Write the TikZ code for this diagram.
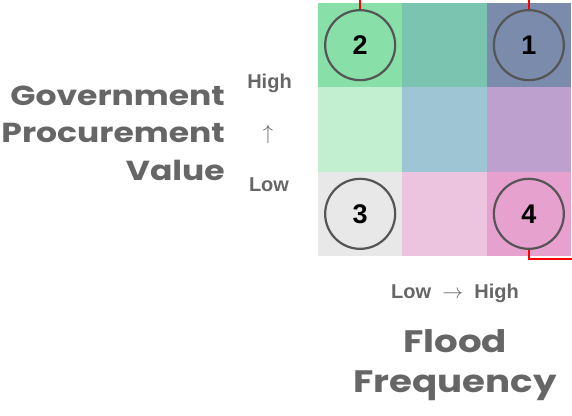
\documentclass[tikz,border=0pt]{standalone}
\usepackage{fontspec}
\setmainfont{Poppins}
\newfontfamily\titlefont{Poppins}[FakeStretch=1.2]
\newfontfamily\numfont{Liberation Sans}
\usepackage{tikz}
\usetikzlibrary{positioning}
\definecolor{bvA}{HTML}{88E0A8}
\definecolor{bvB}{HTML}{7BC4B0}
\definecolor{bvC}{HTML}{7A8BAB}
\definecolor{bvD}{HTML}{C2EFCF}
\definecolor{bvE}{HTML}{9DC5D4}
\definecolor{bvF}{HTML}{BEA0CE}
\definecolor{bvG}{HTML}{E8E8E8}
\definecolor{bvH}{HTML}{ECC4DF}
\definecolor{bvI}{HTML}{E6A1CF}
\definecolor{labelGray}{HTML}{666666}
\definecolor{markGray}{HTML}{555555}
\definecolor{linkRed}{HTML}{FF0000}
\tikzset{
    cell/.style={
        rectangle,
        inner sep=0pt,
        minimum size=84.33pt
    },
    marker/.style={
        circle,
        draw=markGray,
        line width=2.2pt,
        minimum size=70pt,
        inner sep=0pt,
        font=\numfont\bfseries\fontsize{27}{27}\selectfont
    },
    title/.style={
        text=labelGray,
        inner sep=0pt
    },
    tick/.style={
        font=\numfont\bfseries\fontsize{20}{20}\selectfont,
        text=labelGray,
        inner sep=0pt
    },
    link/.style={
        draw=linkRed,
        line width=2.5pt
    }
}
\begin{document}
\begin{tikzpicture}[x=1pt, y=-1pt]
  \useasboundingbox (0,0) rectangle (572,415);

  % Bivariate grid
  \foreach \r/\c/\clr in {1/1/bvA, 1/2/bvB, 1/3/bvC, 2/1/bvD, 2/2/bvE, 2/3/bvF, 3/1/bvG, 3/2/bvH, 3/3/bvI}
    \node[cell, fill=\clr] (c\r\c) at ({318+84.33*(\c-0.5)}, {3+84.33*(\r-0.5)}) {};

  % Markers
  \node[marker] (m2) at (c11) {2};
  \node[marker] (m1) at (c13) {1};
  \node[marker] (m3) at (c31) {3};
  \node[marker] (m4) at (c33) {4};

  % Leader lines
  \coordinate (edge) at (0,0);
  \coordinate (exit4) at (572,259);
  \draw[link] (m2.north) -- (m2.north |- edge);
  \draw[link] (m1.north) -- (m1.north |- edge);
  \draw[link] (m4.south) |- (exit4);

  % Axis labels
  \node[title, font=\titlefont\bfseries\fontsize{27.5}{37.5}\selectfont, align=right, anchor=east] (gpv) at (225,133) {Government\\Procurement\\Value};
  \node[tick, anchor=base] (yhigh) at (269.5,88) {High};
  \node[tick] (yarrow) at (268,134) {$\uparrow$};
  \node[tick, anchor=base] (ylow) at (269,191) {Low};
  \node[tick, anchor=base] (xaxis) at (455,298) {Low ${}\rightarrow{}$ High};
  \node[title, font=\titlefont\bfseries\fontsize{31}{40}\selectfont, anchor=base] (flood) at (455,352) {Flood};
  \node[title, font=\titlefont\bfseries\fontsize{31}{40}\selectfont, anchor=base] (freq) at (455,392) {Frequency};
\end{tikzpicture}
\end{document}
